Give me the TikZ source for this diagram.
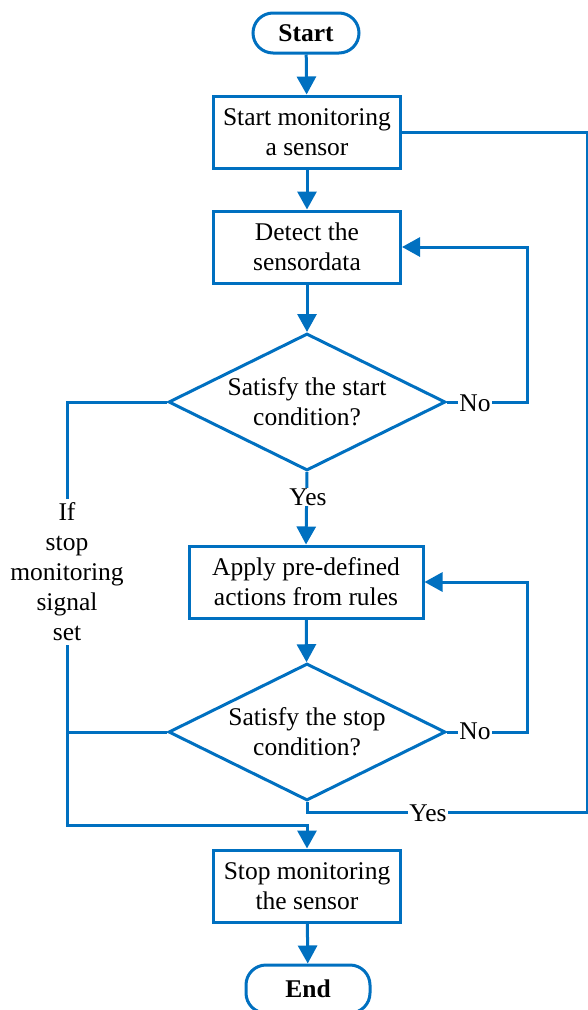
\documentclass[tikz,border=0pt]{standalone}
\usepackage{fontspec}
\setmainfont{Liberation Serif}
\usetikzlibrary{shapes.geometric,arrows.meta}
\definecolor{fblue}{RGB}{0,112,192}
\tikzset{
  every node/.style={font=\fontsize{25.5pt}{30pt}\selectfont},
  ln/.style={draw=fblue, line width=3pt},
  arr/.style={ln, -{Triangle[length=18pt,width=19pt]}},
  procbox/.style={ln, rectangle, fill=white, minimum width=187pt, minimum height=72pt, align=center, inner sep=0pt},
  term/.style={ln, rectangle, rounded corners=20pt, fill=white, align=center, inner sep=0pt, font=\fontsize{25.5pt}{30pt}\selectfont\bfseries},
  decide/.style={ln, diamond, aspect=2, inner sep=0pt, minimum width=277pt, minimum height=137pt, align=center, fill=white},
  lbl/.style={fill=white, inner sep=1pt, align=center}
}
\begin{document}
\begin{tikzpicture}[x=1pt,y=-1pt]
\useasboundingbox (0,0) rectangle (588,1010);
\node[term, minimum width=106pt, minimum height=40pt] (start) at (306,33) {Start};
\node[procbox] (b1) at (307,132) {Start monitoring\\a sensor};
\node[procbox] (b2) at (307,247) {Detect the\\sensordata};
\node[decide] (d1) at (307,402) {Satisfy the start\\condition?};
\node[procbox, minimum width=234pt] (b3) at (306,582) {Apply pre-defined\\actions from rules};
\node[decide] (d2) at (307,732) {Satisfy the stop\\condition?};
\node[procbox] (b4) at (307,886) {Stop monitoring\\the sensor};
\node[term, minimum width=124pt, minimum height=48pt] (end) at (308,989) {End};
\coordinate (L) at (67,825);
\coordinate (R) at (587,812);
\draw[arr] (start) -- (b1);
\draw[arr] (b1) -- (b2);
\draw[arr] (b2) -- (d1);
\draw[arr] (d1.east) -- ++(80,0) |- (b2.east);
\node[lbl] (no1) at (475,403) {No};
\draw[arr] (d1.south) -- (b3.north);
\node[lbl] (yes1) at (308,497) {Yes};
\draw[arr] (b3) -- (d2);
\draw[arr] (d2.east) -- ++(80,0) |- (b3.east);
\node[lbl] (no2) at (475,731) {No};
\draw[ln] (b1.east) -| (R) -| (d2.south);
\node[lbl] (yes2) at (428,813) {Yes};
\draw[arr] (d1.west) -| (L) -| (b4.north);
\draw[ln] (d2.west) -- (d2.west -| L);
\node[lbl, inner sep=4pt] (ifstop) at (67,572) {If\\stop\\monitoring\\signal\\set};
\draw[arr] (b4) -- (end);
\end{tikzpicture}
\end{document}
